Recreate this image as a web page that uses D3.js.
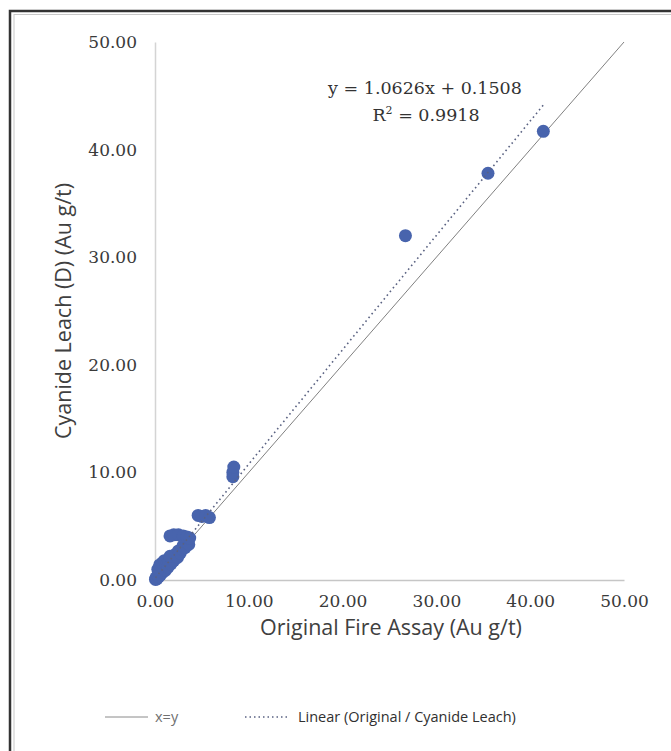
<!DOCTYPE html>
<html><head><meta charset="utf-8">
<script src="https://cdn.jsdelivr.net/npm/d3@7"></script>
<style>body{margin:0;background:#fff}svg{display:block}</style>
</head><body>
<script>
// Data: Original Fire Assay (x) vs Cyanide Leach (y), Au g/t
const fireAssay = [0.05,0.1,0.2,0.3,0.4,0.5,0.6,0.7,0.8,1.0,1.1,0.3,0.5,0.8,1.0,1.2,1.4,1.5,1.7,1.9,2.0,1.6,2.2,2.4,2.5,2.7,2.9,3.0,3.2,3.4,3.5,3.6,1.6,2.0,2.5,3.0,3.4,3.7,4.6,5.0,5.4,5.8,8.3,8.3,8.4,26.7,35.5,41.4];
const cyanideLeach = [0.05,0.2,0.1,0.4,0.3,0.6,0.5,0.9,0.7,1.1,0.9,1.0,1.4,1.6,1.8,1.4,1.2,1.7,1.5,2.0,1.8,2.2,2.4,2.1,2.7,2.5,2.9,3.2,3.0,3.5,3.7,3.3,4.1,4.2,4.2,4.1,4.0,3.9,6.0,5.9,6.0,5.8,9.6,10.0,10.5,32.0,37.8,41.7];
const xTicks = [0,10,20,30,40,50];
const yTicks = [0,10,20,30,40,50];
const identityLine = [0,50];
const slope = 1.0626, intercept = 0.1508, rSquared = 0.9918;
const legendLabels = ["x=y","Linear (Original / Cyanide Leach)"];

const W = 671, H = 751;
const svg = d3.select("body").append("svg").attr("width", W).attr("height", H);

// frame
svg.append("rect").attr("x",10).attr("y",11).attr("width",720).attr("height",800)
  .attr("fill","none").attr("stroke","#333").attr("stroke-width",2.5);
svg.append("rect").attr("x",14).attr("y",14.5).attr("width",720).attr("height",800)
  .attr("fill","none").attr("stroke","#c8c8c8").attr("stroke-width",1);

const x = d3.scaleLinear().domain([0,50]).range([155,624]);
const y = d3.scaleLinear().domain([0,50]).range([580,42]);

// axes
const xAxis = d3.axisBottom(x).tickValues(xTicks).tickFormat(d3.format(".2f")).tickSize(0).tickPadding(15);
const gx = svg.append("g").attr("transform","translate(0,580)").call(xAxis);
gx.select(".domain").attr("stroke","#c6c6c6").attr("stroke-width",1.5);
const yAxis = d3.axisLeft(y).tickValues(yTicks).tickFormat(d3.format(".2f")).tickSize(0).tickPadding(18);
const gy = svg.append("g").attr("transform","translate(155,0)").call(yAxis);
gy.select(".domain").attr("stroke","#d4d4d4").attr("stroke-width",1.5);
svg.selectAll(".tick text").attr("font-family","'DejaVu Serif', serif").attr("font-size",17).attr("fill","#3a3a3a");

// axis titles
svg.append("text").attr("x",391).attr("y",635).attr("text-anchor","middle")
  .attr("font-family","'Open Sans', sans-serif").attr("font-size",21.5).attr("fill","#404040")
  .text("Original Fire Assay (Au g/t)");
svg.append("text").attr("transform","translate(71,311) rotate(-90)").attr("text-anchor","middle")
  .attr("font-family","'Open Sans', sans-serif").attr("font-size",21.5).attr("fill","#404040")
  .text("Cyanide Leach (D) (Au g/t)");

// x=y line
svg.append("line").attr("x1",x(identityLine[0])).attr("y1",y(identityLine[0]))
  .attr("x2",x(identityLine[1])).attr("y2",y(identityLine[1]))
  .attr("stroke","#808080").attr("stroke-width",1);

// points
const pts = fireAssay.map((v,i)=>({x:v,y:cyanideLeach[i]}));
svg.append("g").selectAll("circle").data(pts).join("circle")
  .attr("cx",d=>x(d.x)).attr("cy",d=>y(d.y)).attr("r",6.5)
  .attr("fill","#4864ad");

// trendline
const xmin = d3.min(fireAssay), xmax = d3.max(fireAssay);
svg.append("line").attr("x1",x(xmin)).attr("y1",y(slope*xmin+intercept))
  .attr("x2",x(xmax)).attr("y2",y(slope*xmax+intercept))
  .attr("stroke","#5a6282").attr("stroke-width",1.6).attr("stroke-dasharray","1.6,3.2");

// equation
svg.append("text").attr("x",425).attr("y",94).attr("text-anchor","middle")
  .attr("font-family","'DejaVu Serif', serif").attr("font-size",17.5).attr("fill","#333")
  .text(`y = ${slope}x + ${intercept}`);
const r2 = svg.append("text").attr("x",426).attr("y",121).attr("text-anchor","middle")
  .attr("font-family","'DejaVu Serif', serif").attr("font-size",17.5).attr("fill","#333");
r2.append("tspan").text("R");
r2.append("tspan").attr("dy",-7).attr("font-size",11).text("2");
r2.append("tspan").attr("dy",7).text(` = ${rSquared}`);

// legend
const lg = svg.append("g").attr("font-family","'Open Sans', sans-serif").attr("font-size",14.5).attr("fill","#404040");
lg.append("line").attr("x1",105).attr("x2",148).attr("y1",717).attr("y2",717).attr("stroke","#8a8a8a").attr("stroke-width",1);
lg.append("text").attr("x",155).attr("y",722).attr("fill","#707070").text(legendLabels[0]);
lg.append("line").attr("x1",245).attr("x2",290).attr("y1",717).attr("y2",717).attr("stroke","#5a6282").attr("stroke-width",1.5).attr("stroke-dasharray","1.5,3");
lg.append("text").attr("x",298).attr("y",722).attr("fill","#303030").text(legendLabels[1]);
</script>
</body></html>
